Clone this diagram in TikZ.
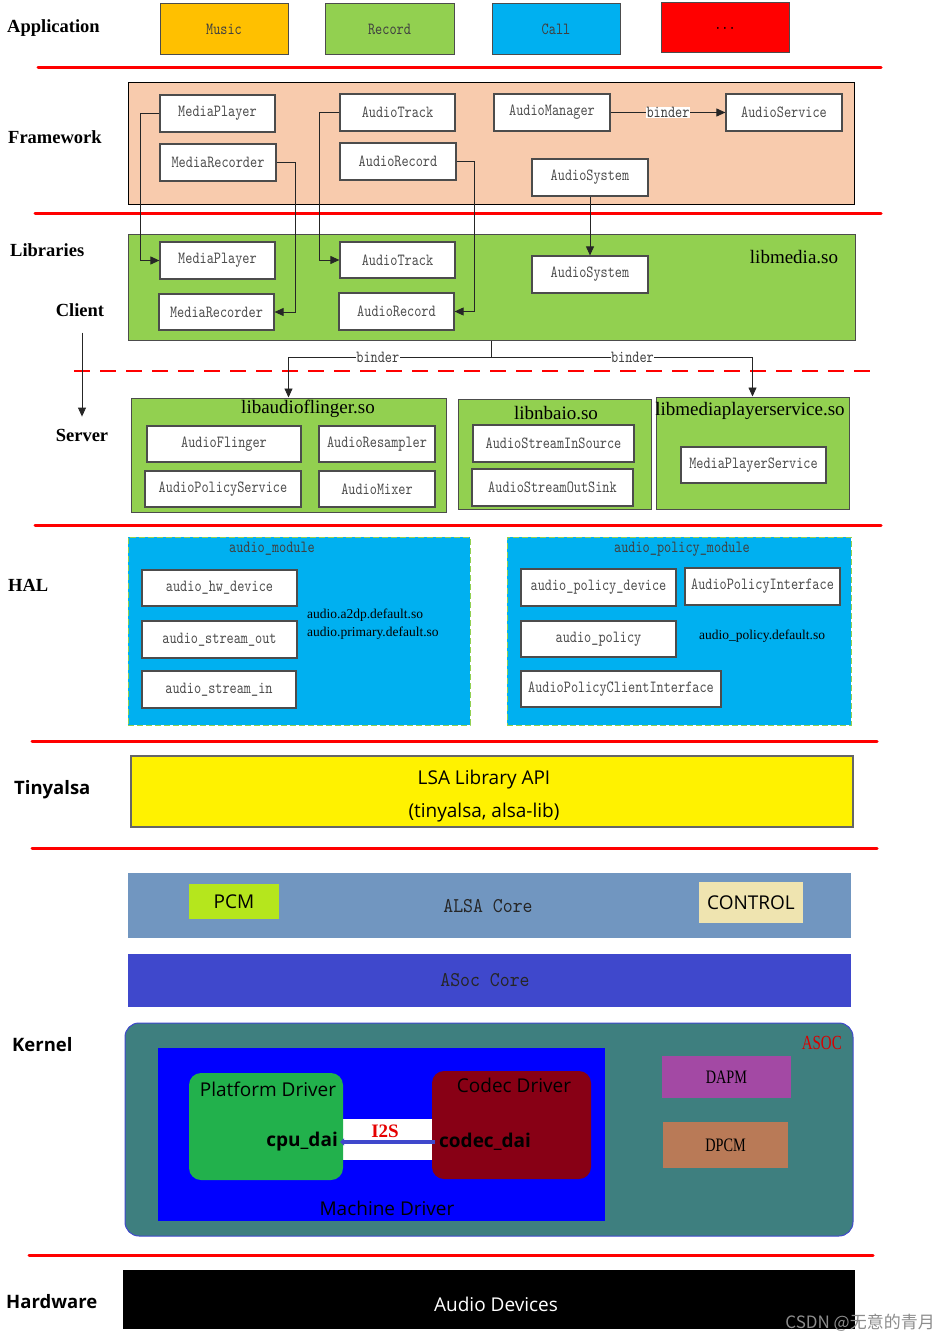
\documentclass[tikz,border=0pt]{standalone}
\usepackage{fontspec}
\setmainfont{Liberation Serif}
\setsansfont{Open Sans}
\newfontfamily\boxfont[FakeStretch=0.8]{lmmono10-regular.otf}
\newfontfamily\narrowserif[FakeStretch=0.75]{Liberation Serif}
\newfontfamily\cjkfont{Noto Sans CJK SC}
\usepackage{tikz}
\usetikzlibrary{positioning, arrows.meta}
\usepackage{xcolor}
\newcommand{\fsz}[1]{\fontsize{#1}{#1}\selectfont}

\definecolor{appOrange}{HTML}{FFC000}
\definecolor{libGreen}{HTML}{92D050}
\definecolor{halCyan}{HTML}{00B0F0}
\definecolor{fwPeach}{HTML}{F8CBAD}
\definecolor{alsaBlue}{HTML}{7196C0}
\definecolor{pcmGreen}{HTML}{B5E61D}
\definecolor{ctrlBeige}{HTML}{EFE4B0}
\definecolor{asocBlue}{HTML}{3F48CC}
\definecolor{asocTeal}{HTML}{3E7F7F}
\definecolor{platGreen}{HTML}{22B14C}
\definecolor{codecRed}{HTML}{880015}
\definecolor{dapmPurple}{HTML}{A349A4}
\definecolor{dpcmBrown}{HTML}{B97A57}

\begin{document}
\begin{tikzpicture}[x=1pt, y=-1pt,
  layerlabel/.style={font=\bfseries\fsz{18.5}, anchor=west, inner sep=0pt},
  sflabel/.style={font=\sffamily\bfseries\fsz{18.5}, anchor=west, inner sep=0pt},
  appbox/.style={draw=black!70, line width=1pt, minimum width=128, minimum height=51, inner sep=0pt, font=\boxfont\fsz{17}, text=black!75},
  mbox/.style={draw=black!70, fill=white, line width=1.2pt, minimum width=116, minimum height=37, inner sep=0pt, font=\boxfont\fsz{17}, text=black!70},
  libbox/.style={draw=black!70, fill=libGreen, line width=1pt, inner sep=0pt},
  libtitle/.style={font=\fsz{19}, inner sep=0pt},
  halbox/.style={draw=libGreen, fill=halCyan, line width=1pt, dash pattern=on 6pt off 3pt, inner sep=0pt},
  modtitle/.style={font=\boxfont\fsz{17}, text=black!75, inner sep=0pt},
  sotext/.style={font=\fontsize{13.5}{18}\selectfont, anchor=west, align=left, inner sep=0pt},
  redline/.style={red, line width=3pt, line cap=round},
  conn/.style={black!85, line width=0.9pt, -{Triangle[length=9pt,width=8pt]}},
  binder/.style={font=\boxfont\fsz{17}, fill=white, inner sep=0.5pt, text=black!75},
  kbox/.style={inner sep=0pt},
  ksans/.style={font=\sffamily\fsz{19}, inner sep=0pt},
  kbold/.style={font=\sffamily\bfseries\fsz{19}, inner sep=0pt},
  coretext/.style={font=\boxfont\addfontfeature{FakeStretch=0.9}\fsz{21}, text=black!85, inner sep=0pt},
]
\useasboundingbox (0,0) rectangle (946,1343);

% layer separators
\draw[redline] (38,68) -- (881,68);
\draw[redline] (35,213) -- (881,213);
\draw[redline] (35,525) -- (881,525);
\draw[redline] (32,741) -- (877,741);
\draw[redline] (32,848) -- (877,848);
\draw[redline] (29,1255) -- (873,1255);
\draw[red, line width=2.5pt, dash pattern=on 16pt off 10pt] (74,371) -- (875,371);

% application
\node[layerlabel] (appLabel) at (7,28) {Application};
\node[appbox, fill=appOrange] (music) at (224,29.5) {Music};
\node[appbox, fill=libGreen, minimum width=129] (record) at (389.5,29.5) {Record};
\node[appbox, fill=halCyan] (call) at (556,29.5) {Call};
\node[appbox, fill=red, minimum height=50, text=black] (more) at (725,28) {...};

% framework
\node[layerlabel] (fwLabel) at (8,137) {Framework};
\node[draw=black, fill=fwPeach, line width=0.8pt, minimum width=726, minimum height=122, inner sep=0pt] (fw) at (491,143) {};
\node[mbox, minimum width=115] (fwMP) at (217.5,113.5) {MediaPlayer};
\node[mbox] (fwMR) at (218,162.5) {MediaRecorder};
\node[mbox, minimum width=115] (fwAT) at (397.5,112.5) {AudioTrack};
\node[mbox] (fwAR) at (398,161.5) {AudioRecord};
\node[mbox] (fwAM) at (552,112.5) {AudioManager};
\node[mbox] (fwAS) at (784,112.5) {AudioService};
\node[mbox] (fwSys) at (590,177.5) {AudioSystem};

% libraries (client)
\node[layerlabel] (libLabel) at (10,250) {Libraries};
\node[layerlabel, anchor=center] (client) at (80,310) {Client};
\node[layerlabel, anchor=center] (server) at (82,435) {Server};
\node[libbox, minimum width=727, minimum height=106] (libmedia) at (491.5,287) {};
\node[libtitle] (libmediaTitle) at (794,257) {libmedia.so};
\node[mbox, minimum width=115] (libMP) at (217.5,260.5) {MediaPlayer};
\node[mbox, minimum width=115, minimum height=36] (libMR) at (216.5,312) {MediaRecorder};
\node[mbox, minimum width=115, minimum height=36] (libAT) at (397.5,260) {AudioTrack};
\node[mbox, minimum width=115] (libAR) at (396.5,311.5) {AudioRecord};
\node[mbox] (libSys) at (590,274.5) {AudioSystem};

% server
\node[libbox, minimum width=315, minimum height=114] (laf) at (288.5,455) {};
\node[libtitle] (lafTitle) at (308,409) {libaudioflinger.so};
\node[mbox, minimum width=154, minimum height=36] (flinger) at (224,444) {AudioFlinger};
\node[mbox, minimum height=36] (resampler) at (377,444) {AudioResampler};
\node[mbox, minimum width=156, minimum height=36] (policySrv) at (223,489) {AudioPolicyService};
\node[mbox, minimum height=36] (mixer) at (377,489) {AudioMixer};
\node[libbox, minimum width=193, minimum height=110] (nbaio) at (554.5,454) {};
\node[libtitle] (nbaioTitle) at (556,413) {libnbaio.so};
\node[mbox, minimum width=161] (inSource) at (553.5,443.5) {AudioStreamInSource};
\node[mbox, minimum width=161] (outSink) at (552.5,487.5) {AudioStreamOutSink};
\node[libbox, minimum width=193, minimum height=112] (mps) at (752.5,453) {};
\node[libtitle] (mpsTitle) at (750,411) {libmediaplayerservice.so};
\node[mbox, minimum width=145, minimum height=36] (mpService) at (753.5,465) {MediaPlayerService};

% framework -> libraries
\draw[conn] (fwAM) -- node[binder] {binder} (fwAS);
\draw[conn] (fwMP.west) -- ++(-19,0) |- (libMP.west);
\draw[conn] (fwMR.east) -- ++(19,0) |- (libMR.east);
\draw[conn] (fwAT.west) -- ++(-20,0) |- (libAT.west);
\draw[conn] (fwAR.east) -- ++(18,0) |- (libAR.east);
\draw[conn] (fwSys) -- (libSys);
\draw[conn, shorten <=16pt, shorten >=12pt] (client.south -| server.north) -- (server.north);

% client -> server binder
\coordinate (split) at (491.5,357);
\draw[black!85, line width=1.5pt] (libmedia.south) -- (split);
\draw[conn] (split) -| node[binder, pos=0.28] {binder} (laf.north);
\draw[conn] (split) -| node[binder, pos=0.27] {binder} (mps.north);

% hal
\node[layerlabel] (halLabel) at (8,585) {HAL};
\node[halbox, minimum width=342, minimum height=188] (audioMod) at (299,631) {};
\node[modtitle] (audioModTitle) at (272,549) {audio\_module};
\node[mbox, minimum width=155, minimum height=36] (hwDevice) at (219.5,588) {audio\_hw\_device};
\node[mbox, minimum width=155] (streamOut) at (219.5,639.5) {audio\_stream\_out};
\node[mbox, minimum width=154] (streamIn) at (219,689.5) {audio\_stream\_in};
\node[sotext] (audioSo) at (307,624) {audio.a2dp.default.so\\audio.primary.default.so};
\node[halbox, minimum width=344, minimum height=188] (policyMod) at (679,631) {};
\node[modtitle] (policyModTitle) at (682,549) {audio\_policy\_module};
\node[mbox, minimum width=155] (policyDev) at (598.5,587.5) {audio\_policy\_device};
\node[mbox, minimum width=155] (policyIf) at (762.5,586.5) {AudioPolicyInterface};
\node[mbox, minimum width=155, minimum height=36] (policy) at (598.5,639) {audio\_policy};
\node[mbox, minimum width=200, minimum height=36] (policyClient) at (621,689) {AudioPolicyClientInterface};
\node[sotext] (policySo) at (699,636) {audio\_policy.default.so};

% tinyalsa
\node[sflabel] (tinyLabel) at (14,790) {Tinyalsa};
\node[draw=black!60, fill=yellow, line width=1.2pt, minimum width=722, minimum height=71, inner sep=0pt] (tinyalsa) at (492,791.5) {};
\node[ksans, font=\sffamily\fontsize{19}{33}\selectfont, align=center] (tinyText) at (484,796) {LSA Library API\\(tinyalsa, alsa-lib)};

% kernel
\node[sflabel] (kernelLabel) at (12,1045) {Kernel};
\node[kbox, fill=alsaBlue, minimum width=723, minimum height=65] (alsa) at (489.5,905.5) {};
\node[coretext] (alsaText) at (488,906) {ALSA Core};
\node[kbox, ksans, fill=pcmGreen, minimum width=90, minimum height=35] (pcm) at (234,901.5) {PCM};
\node[kbox, ksans, fill=ctrlBeige, minimum width=104, minimum height=41] (control) at (751,902.5) {CONTROL};
\node[kbox, fill=asocBlue, minimum width=723, minimum height=53] (asocCore) at (489.5,980.5) {};
\node[coretext] (asocCoreText) at (485,980) {ASoc Core};
\node[kbox, draw=asocBlue, fill=asocTeal, line width=1pt, rounded corners=14pt, minimum width=728, minimum height=213] (asoc) at (489,1129.5) {};
\node[inner sep=0pt, anchor=east, font=\narrowserif\fsz{20}, text=red!85!black] (asocTitle) at (842,1043) {ASOC};
\node[kbox, fill=blue, minimum width=447, minimum height=173] (machine) at (381.5,1134.5) {};
\node[ksans] (machineTitle) at (387,1208) {Machine Driver};
\fill[white] (340,1119) rectangle (436,1160);
\node[kbox, fill=platGreen, rounded corners=12pt, minimum width=154, minimum height=107] (platform) at (266,1126.5) {};
\node[ksans] (platformTitle) at (268,1089) {Platform Driver};
\node[kbold, anchor=east] (cpuDai) at (338,1142) {cpu\_dai};
\node[kbox, fill=codecRed, rounded corners=12pt, minimum width=159, minimum height=108] (codec) at (511.5,1125) {};
\node[ksans] (codecTitle) at (514,1085) {Codec Driver};
\node[kbold, anchor=west] (codecDai) at (439,1142) {codec\_dai};
\draw[asocBlue, line width=3.5pt, shorten <=4pt, shorten >=2pt, -{Triangle[length=4pt,width=7pt]}] (codecDai.west) -- (cpuDai.east);
\node[inner sep=0pt, font=\bfseries\fsz{19}, text=red!90!black] (i2s) at (385,1131) {I2S};
\node[kbox, fill=dapmPurple, minimum width=129, minimum height=42, font=\narrowserif\fsz{19}] (dapm) at (726.5,1077) {DAPM};
\node[kbox, fill=dpcmBrown, minimum width=125, minimum height=46, font=\narrowserif\fsz{19}] (dpcm) at (725.5,1145) {DPCM};

% hardware
\node[sflabel] (hwLabel) at (6,1302) {Hardware};
\node[kbox, fill=black, minimum width=732, minimum height=59] (devices) at (489,1299.5) {};
\node[ksans, text=white] (devicesText) at (496,1304) {Audio Devices};
\node[inner sep=0pt, anchor=east, font=\cjkfont\fsz{17}, text=black!45] (mark) at (935,1323) {CSDN @无意的青月};

\end{tikzpicture}
\end{document}
